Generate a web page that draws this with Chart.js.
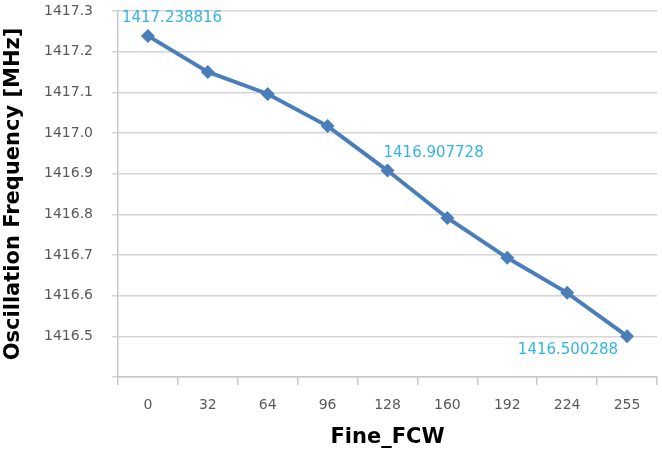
<!DOCTYPE html>
<html>
<head>
<meta charset="utf-8">
<script src="https://cdn.jsdelivr.net/npm/chart.js@4"></script>
<style>
  html, body { margin: 0; padding: 0; background: #fff; }
  #wrap { width: 662px; height: 468px; }
</style>
</head>
<body>
<div id="wrap"><canvas id="myChart"></canvas></div>
<script>
const fineFcw = ['0', '32', '64', '96', '128', '160', '192', '224', '255'];
const freqMHz = [1417.238816, 1417.150, 1417.096, 1417.017, 1416.907728, 1416.791, 1416.693, 1416.607, 1416.500288];
const labelledPoints = [0, 4, 8];
const yMin = 1416.4;
const yMax = 1417.3;

// draws the value labels next to a few of the points, like Excel data labels
const pointLabels = {
    id: 'pointLabels',
    afterDatasetsDraw(chart) {
        const c = chart.ctx;
        const meta = chart.getDatasetMeta(0);
        c.save();
        c.font = '15px "DejaVu Sans"';
        c.fillStyle = '#33b4e6';
        c.textBaseline = 'middle';
        labelledPoints.forEach((i) => {
            const pt = meta.data[i];
            const txt = String(freqMHz[i]);
            if (i === 0) {
                c.textAlign = 'left';
                c.fillText(txt, pt.x - 26, pt.y - 18);
            } else if (i === fineFcw.length - 1) {
                c.textAlign = 'right';
                c.fillText(txt, pt.x - 9, pt.y + 14);
            } else {
                c.textAlign = 'left';
                c.fillText(txt, pt.x - 4, pt.y - 17);
            }
        });
        c.restore();
    }
};

const ctx = document.getElementById('myChart');

const freqChart = new Chart(ctx, {
    type: 'line',
    data: {
        labels: fineFcw,
        datasets: [{
            label: 'Oscillation Frequency',
            data: freqMHz,
            borderColor: '#4a7ebb',
            backgroundColor: '#4a7ebb',
            borderWidth: 4,
            pointStyle: 'rectRot',
            pointRadius: 7,
            pointBorderWidth: 0,
            tension: 0
        }]
    },
    options: {
        responsive: true,
        maintainAspectRatio: false,
        animation: false,
        layout: { autoPadding: false, padding: { top: 11, right: 5, bottom: 0, left: 0 } },
        plugins: {
            legend: { display: false },
            tooltip: { enabled: false }
        },
        scales: {
            x: {
                offset: true,
                grid: {
                    display: true,
                    drawOnChartArea: false,
                    offset: true,
                    tickLength: 8,
                    color: '#c8c8c8',
                    lineWidth: 1.5
                },
                border: { color: '#c8c8c8', width: 1.5 },
                ticks: {
                    color: '#595959',
                    font: { family: 'DejaVu Sans', size: 14 },
                    padding: 12,
                    maxRotation: 0
                },
                title: {
                    display: true,
                    text: 'Fine_FCW',
                    color: '#000',
                    font: { family: 'DejaVu Sans', size: 21, weight: 'bold' },
                    padding: { top: 6, bottom: 18 }
                },
                afterFit(scale) { scale.height = 91; }
            },
            y: {
                min: yMin,
                max: yMax,
                ticks: {
                    stepSize: 0.1,
                    color: '#595959',
                    font: { family: 'DejaVu Sans', size: 14 },
                    padding: 0,
                    callback: (v) => (Math.abs(v - yMin) < 1e-6 ? '' : Number(v).toFixed(1))
                },
                grid: {
                    color: '#d4d4d4',
                    lineWidth: 1.5,
                    tickLength: 25,
                    // long tick keeps labels away from the axis; only the part next to the axis is drawn
                    tickBorderDash: [0, 19, 6, 100]
                },
                border: { color: '#c8c8c8', width: 1.5 },
                title: {
                    display: true,
                    text: 'Oscillation Frequency [MHz]',
                    color: '#000',
                    font: { family: 'DejaVu Sans', size: 21, weight: 'bold' },
                    padding: { top: 1, bottom: 0 }
                },
                afterFit(scale) { scale.width = 118; }
            }
        }
    },
    plugins: [pointLabels]
});
</script>
</body>
</html>
